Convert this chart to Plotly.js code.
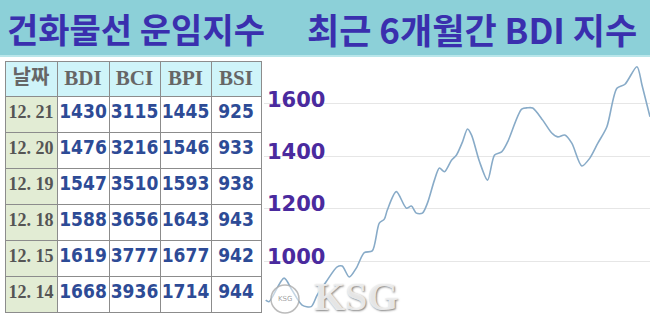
<!DOCTYPE html>
<html>
<head>
<meta charset="utf-8">
<script src="https://cdn.plot.ly/plotly-3.0.1.min.js"></script>
<style>html,body{margin:0;padding:0;background:#fff;}#chart{width:650px;height:320px;}</style>
</head>
<body>
<div id="chart"></div>
<script>
// Table data
const headers = ["날짜", "BDI", "BCI", "BPI", "BSI"];
const dates = ["12. 21", "12. 20", "12. 19", "12. 18", "12. 15", "12. 14"];
const bdi = [1430, 1476, 1547, 1588, 1619, 1668];
const bci = [3115, 3216, 3510, 3656, 3777, 3936];
const bpi = [1445, 1546, 1593, 1643, 1677, 1714];
const bsi = [925, 933, 938, 943, 942, 944];

// BDI line over recent 6 months (position along period, index value)
const linePos = [1.7, 5, 20, 28, 38, 47, 53, 62, 73, 78, 85, 92, 100, 108, 115, 120, 123, 132, 142, 147, 152, 158, 163, 170, 175, 180, 187, 192, 198, 203, 207, 215, 223, 230, 237, 243, 257, 263, 268, 278, 287, 293, 300, 307, 317, 325, 333, 342, 352, 360, 372, 377, 385];
const lineVal = [851, 845, 935, 889, 832, 826, 870, 921, 978, 981, 939, 973, 1032, 1039, 1145, 1160, 1195, 1265, 1202, 1210, 1183, 1183, 1221, 1309, 1355, 1341, 1385, 1405, 1455, 1504, 1481, 1379, 1309, 1405, 1417, 1455, 1580, 1585, 1584, 1538, 1489, 1474, 1481, 1450, 1363, 1393, 1450, 1513, 1660, 1675, 1742, 1672, 1551];
const yTicks = [1000, 1200, 1400, 1600];

const W = 650, H = 320;
const px = x => x / W;
const py = y => 1 - y / H;

const dateText = dates.map(d => d.replace(" ", "\u00a0"));
const dateFill = dates.map(() => "#e2ecd4");
const whiteFill = dates.map(() => "#ffffff");

const tableTrace = {
  type: "table",
  domain: {x: [px(5), px(262)], y: [py(313), py(61)]},
  columnwidth: [52, 52, 51, 51, 50],
  header: {
    values: headers,
    height: 35,
    align: "center",
    fill: {color: "#cff4f9"},
    line: {color: "#8c8c8c", width: 1},
    font: {family: ["Noto Sans CJK KR", "Liberation Serif", "Liberation Serif", "Liberation Serif", "Liberation Serif"], size: [20, 21, 21, 21, 21], color: "#666666", weight: "bold"}
  },
  cells: {
    values: [dateText, bdi, bci, bpi, bsi],
    height: 36,
    align: "center",
    fill: {color: [dateFill, whiteFill, whiteFill, whiteFill, whiteFill]},
    line: {color: "#8c8c8c", width: 1},
    font: {family: ["Liberation Serif", "DejaVu Sans Condensed", "DejaVu Sans Condensed", "DejaVu Sans Condensed", "DejaVu Sans Condensed"], size: [18, 19, 19, 19, 19], color: ["#555555", "#2d4b96", "#2d4b96", "#2d4b96", "#2d4b96"], weight: "bold"}
  }
};

const lineTrace = {
  type: "scatter",
  mode: "lines",
  x: linePos,
  y: lineVal,
  line: {color: "#88abc8", width: 1.6, shape: "spline", smoothing: 0.8},
  hoverinfo: "skip",
  xaxis: "x",
  yaxis: "y"
};

const layout = {
  width: W, height: H,
  margin: {l: 0, r: 0, t: 0, b: 0},
  paper_bgcolor: "#ffffff",
  plot_bgcolor: "rgba(0,0,0,0)",
  showlegend: false,
  xaxis: {domain: [px(264), 1], range: [0, 385], showgrid: false, zeroline: false, showticklabels: false, showline: false, ticks: ""},
  yaxis: {domain: [0, py(57)], range: [775, 1779], tickvals: yTicks, showgrid: true, gridcolor: "#e6e6e6", gridwidth: 1, zeroline: false, showline: false, ticks: "",
    ticklabelposition: "inside top", ticklabelstandoff: 0, ticklabelshift: 10,
    tickfont: {family: "DejaVu Sans", size: 21, color: "#4a2a9e", weight: "bold"}},
  shapes: [
    {type: "rect", xref: "paper", yref: "paper", x0: 0, x1: 1, y0: py(55), y1: 1, fillcolor: "#8cd0d8", line: {width: 0}, layer: "below"},
    {type: "line", xref: "paper", yref: "paper", x0: 0, x1: 1, y0: py(56), y1: py(56), line: {color: "#b9e6ea", width: 2}},
    {type: "circle", xref: "paper", yref: "paper", x0: px(271), x1: px(299), y0: py(313), y1: py(285), line: {color: "rgba(170,170,170,0.8)", width: 1.5}, fillcolor: "rgba(255,255,255,0.5)"}
  ],
  annotations: [
    {text: "건화물선 운임지수", xref: "paper", yref: "paper", x: px(136), y: py(29), showarrow: false, xanchor: "center", yanchor: "middle",
      font: {family: "Noto Sans CJK KR", size: 34, color: "#3a2fae", weight: "bold"}},
    {text: "최근 6개월간 BDI 지수", xref: "paper", yref: "paper", x: px(472), y: py(29), showarrow: false, xanchor: "center", yanchor: "middle",
      font: {family: "Noto Sans CJK KR", size: 35, color: "#3a2fae", weight: "bold"}},
    {text: "KSG", xref: "paper", yref: "paper", x: px(356), y: py(296), showarrow: false, xanchor: "center", yanchor: "middle",
      font: {family: "Liberation Serif", size: 40, color: "rgba(240,240,240,0.93)", weight: "bold", shadow: "1px 1px 2px #777"}},
    {text: "KSG", xref: "paper", yref: "paper", x: px(285), y: py(299), showarrow: false, xanchor: "center", yanchor: "middle",
      font: {family: "DejaVu Sans", size: 7, color: "rgba(150,150,150,0.9)"}}
  ]
};

Plotly.newPlot("chart", [tableTrace, lineTrace], layout, {displayModeBar: false, staticPlot: true});
</script>
</body>
</html>
